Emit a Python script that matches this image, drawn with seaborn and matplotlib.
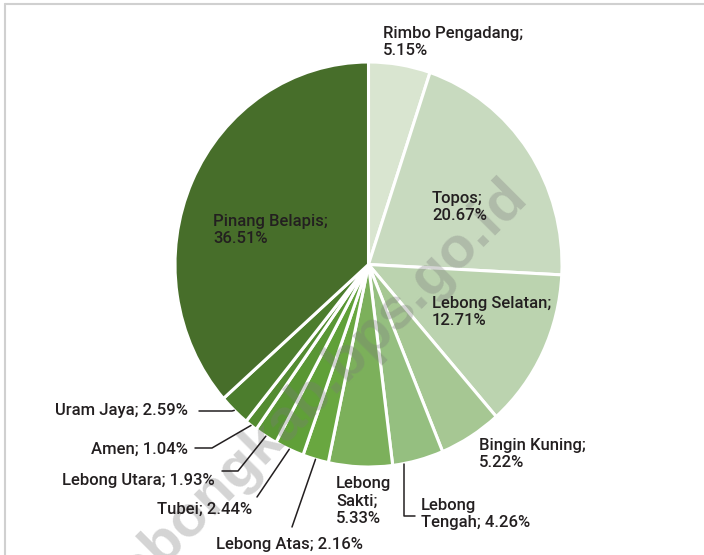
import numpy as np
import matplotlib
matplotlib.use("Agg")
import matplotlib.pyplot as plt
import seaborn as sns

# share of each kecamatan, clockwise from 12 o'clock
districts = ["Rimbo Pengadang", "Topos", "Lebong Selatan", "Bingin Kuning",
             "Lebong Tengah", "Lebong Sakti", "Lebong Atas", "Tubei",
             "Lebong Utara", "Amen", "Uram Jaya", "Pinang Belapis"]
shares = [5.15, 20.67, 12.71, 5.22, 4.26, 5.33, 2.16, 2.44, 1.93, 1.04, 2.59, 36.51]
slice_colors = ["#D9E5D0", "#C8DABF", "#BBD3AF", "#A6C793", "#95BF80", "#7CB05B",
                "#69A740", "#60A038", "#599634", "#538B30", "#4C7D2D", "#476E2A"]

sns.set_style("white")
plt.rcParams["font.family"] = ["Roboto", "Liberation Sans", "DejaVu Sans"]

W, H = 704, 555
fig = plt.figure(figsize=(W / 100, H / 100), dpi=100)
fig.patch.set_facecolor("white")

# green panel (pixel box 5..704 x 4..555)
ax = fig.add_axes([5 / W, 0, (W - 5) / W, (H - 4) / H])
ax.set_facecolor("#A8D08D")

# pie centre and radii in pixels (slightly taller than wide)
cx, cy, rx, ry = 368.5, 264.5, 193.5, 202.5


def px(x, y):
    return (x - cx) / rx, (cy - y) / ry


wedges, _ = ax.pie(shares, colors=slice_colors, startangle=90, counterclock=False,
                   wedgeprops=dict(edgecolor="white", linewidth=2.2))
ax.set_aspect("auto")
x0, _ = px(5, 0)
x1, _ = px(W, 0)
_, y0 = px(0, H)
_, y1 = px(0, 4)
ax.set_xlim(x0, x1)
ax.set_ylim(y0, y1)
ax.axis("on")
for s in ax.spines.values():
    s.set_visible(False)
ax.set_xticks([])
ax.set_yticks([])

# watermark
wx, wy = px(318, 388)
ax.text(wx, wy, "lebongkab.bps.go.id", fontsize=42, fontweight="bold", color="#7A7A7A",
        alpha=0.32, rotation=45, ha="center", va="center", clip_on=True, zorder=5,
        family=["Liberation Sans", "DejaVu Sans"])

txt = dict(fontsize=12, fontweight="medium", color="#231F20", linespacing=1.18, zorder=6)
lab = {d: f"{d}; {s:.2f}%" for d, s in zip(districts, shares)}
two = {d: f"{d};\n{s:.2f}%" for d, s in zip(districts, shares)}

# labels without leaders
for name, (x, y) in {"Rimbo Pengadang": (383, 42), "Topos": (432, 207),
                     "Pinang Belapis": (213, 230), "Lebong Selatan": (432, 312),
                     "Bingin Kuning": (479, 454)}.items():
    ax.text(*px(x, y), two[name], ha="left", va="center", **txt)
i = districts.index("Lebong Sakti")
ax.text(*px(336, 501), f"Lebong\nSakti;\n{shares[i]:.2f}%", ha="left", va="center", **txt)
i = districts.index("Lebong Tengah")
ax.text(*px(421, 514), f"Lebong\nTengah; {shares[i]:.2f}%", ha="left", va="center", **txt)


def anchor(name, frac=0.5):
    w = wedges[districts.index(name)]
    t = np.deg2rad(w.theta1 + frac * (w.theta2 - w.theta1))
    return np.cos(t), np.sin(t)


# leader lines: (label pos, alignment, path points from label side)
leaders = {
    "Uram Jaya": ((188, 411), "right", [(199, 411), (232, 411)]),
    "Amen": ((188, 449), "right", [(195, 448), (212, 448)]),
    "Lebong Utara": ((215, 480), "right", [(222, 471), (238, 471)]),
    "Tubei": ((252, 509), "right", [(257, 497)]),
    "Lebong Atas": ((216, 544), "left", [(292, 527)]),
}
for name, ((lx, ly), ha, path) in leaders.items():
    ax.text(*px(lx, ly), lab[name], ha=ha, va="center", **txt)
    pts = [px(x, y) for x, y in path] + [anchor(name)]
    xs, ys = zip(*pts)
    ax.plot(xs, ys, color="#231F20", lw=1.1, zorder=6)

ax_, ay_ = anchor("Lebong Tengah", 0.22)
ex, ey = px(0, 516)
hx, _ = px(415, 0)
ax.plot([ax_, ax_, hx], [ay_, ey, ey], color="#231F20", lw=1.1, zorder=6)

# thin grey frame at top/left
fig.add_artist(plt.Line2D([5 / W, 1], [1 - 3.5 / H, 1 - 3.5 / H], color="#D0D0D0", lw=1.5))
fig.add_artist(plt.Line2D([4.5 / W, 4.5 / W], [0, 1 - 3.5 / H], color="#D0D0D0", lw=1.5))

fig.savefig("out.png", dpi=100)
